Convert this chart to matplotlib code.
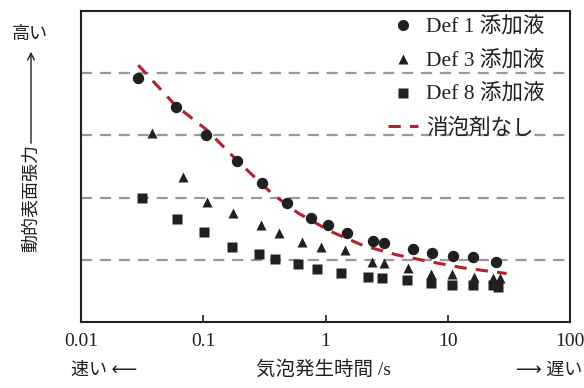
import numpy as np
from matplotlib import pyplot as plt
from matplotlib.lines import Line2D
from matplotlib.patches import FancyArrowPatch

plt.rcParams['font.family'] = ['Liberation Serif', 'Noto Sans CJK JP', 'DejaVu Sans']

# Def 1 添加液
def1_x = [0.029, 0.060, 0.105, 0.19, 0.30, 0.48, 0.76, 1.05, 1.5, 2.44, 3.0, 5.2, 7.5, 11, 16, 24.7]
def1_y = [3.92, 3.46, 3.01, 2.59, 2.23, 1.91, 1.67, 1.56, 1.43, 1.30, 1.27, 1.17, 1.11, 1.06, 1.04, 0.96]

# Def 3 添加液
def3_x = [0.0379, 0.0683, 0.108, 0.176, 0.297, 0.414, 0.638, 0.923, 1.44, 2.38, 3.0, 4.69, 7.28, 10.9, 16.4, 23.5, 26.7]
def3_y = [3.04, 2.33, 1.93, 1.75, 1.56, 1.43, 1.29, 1.21, 1.16, 0.96, 0.95, 0.87, 0.77, 0.77, 0.72, 0.71, 0.71]

# Def 8 添加液
def8_x = [0.0317, 0.0607, 0.102, 0.171, 0.287, 0.388, 0.598, 0.855, 1.35, 2.23, 2.91, 4.66, 7.23, 10.9, 16.1, 23.5, 25.8]
def8_y = [1.99, 1.65, 1.44, 1.21, 1.10, 1.01, 0.93, 0.85, 0.78, 0.72, 0.71, 0.68, 0.62, 0.59, 0.59, 0.59, 0.57]

# 消泡剤なし
none_x = [0.0294, 0.0587, 0.1066, 0.193, 0.362, 0.598, 1.12, 2.03, 3.81, 7.14, 13.4, 30.3]
none_y = [4.13, 3.49, 3.09, 2.58, 2.07, 1.75, 1.45, 1.23, 1.08, 0.97, 0.87, 0.78]

labels = ["Def 1 添加液", "Def 3 添加液", "Def 8 添加液", "消泡剤なし"]

W, H = 584, 388
fig = plt.figure(figsize=(W / 100, H / 100), dpi=100)
ax = fig.add_axes([81 / W, 1 - 322 / H, (570 - 81) / W, (322 - 11) / H])

ink = "#231f20"
red = "#b5202e"

for g in [1, 2, 3, 4]:
    ax.axhline(g, color="#999999", lw=1.6, dashes=(5, 3.5), zorder=1)

ax.plot(none_x, none_y, color=red, lw=2.2, dashes=(4, 3), zorder=2)
ax.plot(def1_x, def1_y, "o", color=ink, ms=8.2, mec="none", zorder=3)
ax.plot(def3_x, def3_y, "^", color=ink, ms=7.6, mec="none", zorder=3)
ax.plot(def8_x, def8_y, "s", color=ink, ms=7.8, mec="none", zorder=3)

ax.set_xscale("log")
ax.set_xlim(0.01, 100)
ax.set_ylim(0, 5)
ax.set_yticks([])
ax.set_xticks([0.01, 0.1, 1, 10, 100])
ax.set_xticklabels(["0.01", "0.1", "1", "10", "100"])
ax.minorticks_off()
ax.tick_params(axis="x", direction="in", length=5, width=1.2, labelsize=14, pad=8, colors=ink)
for s in ax.spines.values():
    s.set_linewidth(1.5)
    s.set_color(ink)

handles = [
    Line2D([], [], ls="none", marker="o", color=ink, ms=8, mec="none"),
    Line2D([], [], ls="none", marker="^", color=ink, ms=7.5, mec="none"),
    Line2D([], [], ls="none", marker="s", color=ink, ms=7.5, mec="none"),
    Line2D([], [], color=red, lw=2.2, dashes=(4, 3)),
]
leg = ax.legend(handles, labels, loc="upper right", bbox_to_anchor=(1 - 17 / 489, 1 + 2 / 311),
                frameon=False, fontsize=15.5, handlelength=1.4, handletextpad=0.35,
                labelspacing=0.62, borderaxespad=0.0)
for t in leg.get_texts():
    t.set_color(ink)

def fx(x):
    return x / W

def fy(y):
    return 1 - y / H

fig.text(fx(30), fy(35), "高い", fontsize=13, ha="center", va="center", color=ink)
fig.text(fx(31), fy(198), "動的表面張力", fontsize=13, rotation=90, ha="center", va="center", color=ink)
fig.patches.append(FancyArrowPatch(
    (fx(31), fy(146)), (fx(31), fy(49)), transform=fig.transFigure,
    arrowstyle="->", mutation_scale=12, lw=1.0, color=ink))

fig.text(fx(71), fy(370), "速い ⟵", fontsize=13, ha="left", va="center", color=ink)
fig.text(fx(323), fy(370), "気泡発生時間 /s", fontsize=14, ha="center", va="center", color=ink)
fig.text(fx(582), fy(370), "⟶ 遅い", fontsize=13, ha="right", va="center", color=ink)

fig.savefig("out.png", dpi=100)
